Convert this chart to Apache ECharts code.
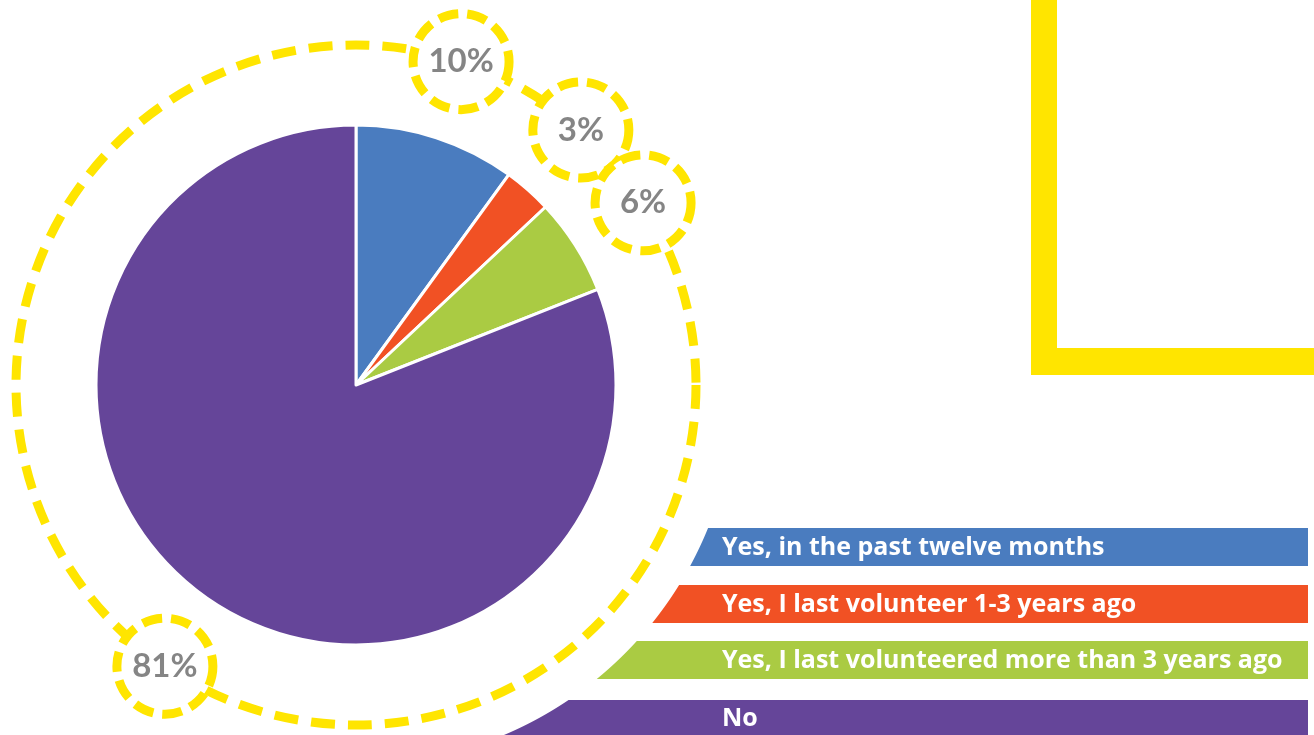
<!DOCTYPE html>
<html>
<head>
<meta charset="utf-8">
<script src="https://cdn.jsdelivr.net/npm/echarts@6/dist/echarts.min.js"></script>
<style>
html,body{margin:0;padding:0;background:#fff;}
#chart{width:1314px;height:735px;}
</style>
</head>
<body>
<div id="chart"></div>
<script>
const categories = [
  'Yes, in the past twelve months',
  'Yes, I last volunteer 1-3 years ago',
  'Yes, I last volunteered more than 3 years ago',
  'No'
];
const values = [10, 3, 6, 81];
const labelTexts = ['10%', '3%', '6%', '81%'];
const colors = ['#4A7CBF', '#F15124', '#AACB43', '#654599'];

const YELLOW = '#FFE500';
const CX = 356, CY = 385;
const total = values.reduce((a, b) => a + b, 0);

// mid positions of each slice on the angle axis
let cum = 0;
const labelPoints = values.map((v, i) => {
  const mid = cum + v / 2;
  cum += v;
  return { value: [1, mid], label: { formatter: labelTexts[i] } };
});

// legend banners, left edge clipped by a circle concentric with the pie
const bannerTops = [528, 585, 641, 700];
const bannerBottoms = [566, 623, 679, 740];
const R_CLIP = 380;
const RIGHT = 1308;
function edgeX(y) {
  const dy = y - CY;
  return CX + Math.sqrt(Math.max(0, R_CLIP * R_CLIP - dy * dy));
}
const graphics = [
  { type: 'rect', shape: { x: 1031, y: 0, width: 26, height: 375 }, style: { fill: YELLOW }, silent: true },
  { type: 'rect', shape: { x: 1031, y: 348, width: 283, height: 27 }, style: { fill: YELLOW }, silent: true }
];
categories.forEach((c, i) => {
  const t = bannerTops[i], b = bannerBottoms[i];
  const pts = [];
  for (let y = t; y <= b; y += 2) pts.push([edgeX(y), y]);
  pts.push([RIGHT, b]);
  pts.push([RIGHT, t]);
  graphics.push({
    type: 'polygon', shape: { points: pts }, style: { fill: colors[i] }, silent: true, z: 10
  });
  graphics.push({
    type: 'text', x: 722, y: (t + Math.min(b, 735)) / 2 + 1,
    style: {
      text: c, fill: '#fff', font: 'bold 25px "Open Sans"', textVerticalAlign: 'middle', textAlign: 'left'
    },
    silent: true, z: 11
  });
});

const chart = echarts.init(document.getElementById('chart'));
chart.setOption({
  animation: false,
  backgroundColor: '#fff',
  polar: { center: [CX, CY], radius: 340 },
  angleAxis: {
    type: 'value', min: 0, max: total, startAngle: 90, clockwise: true,
    axisLine: { show: true, lineStyle: { color: YELLOW, width: 9, type: [24, 13], cap: 'butt' } },
    axisTick: { show: false }, axisLabel: { show: false }, splitLine: { show: false }
  },
  radiusAxis: {
    type: 'value', min: 0, max: 1,
    axisLine: { show: false }, axisTick: { show: false }, axisLabel: { show: false }, splitLine: { show: false }
  },
  series: [
    {
      type: 'pie',
      center: [CX, CY],
      radius: 260,
      startAngle: 90,
      clockwise: true,
      label: { show: false },
      labelLine: { show: false },
      itemStyle: { borderColor: '#fff', borderWidth: 3 },
      data: categories.map((c, i) => ({ name: c, value: values[i], itemStyle: { color: colors[i] } })),
      z: 2
    },
    {
      type: 'scatter',
      coordinateSystem: 'polar',
      symbol: 'circle',
      symbolSize: 96,
      itemStyle: {
        color: '#fff', borderColor: YELLOW, borderWidth: 9,
        borderType: [20, 9], opacity: 1
      },
      label: {
        show: true, position: 'inside', color: '#858585',
        fontFamily: 'Lato', fontWeight: 'bold', fontSize: 33
      },
      data: labelPoints,
      z: 5
    }
  ],
  graphic: graphics
});
</script>
</body>
</html>
